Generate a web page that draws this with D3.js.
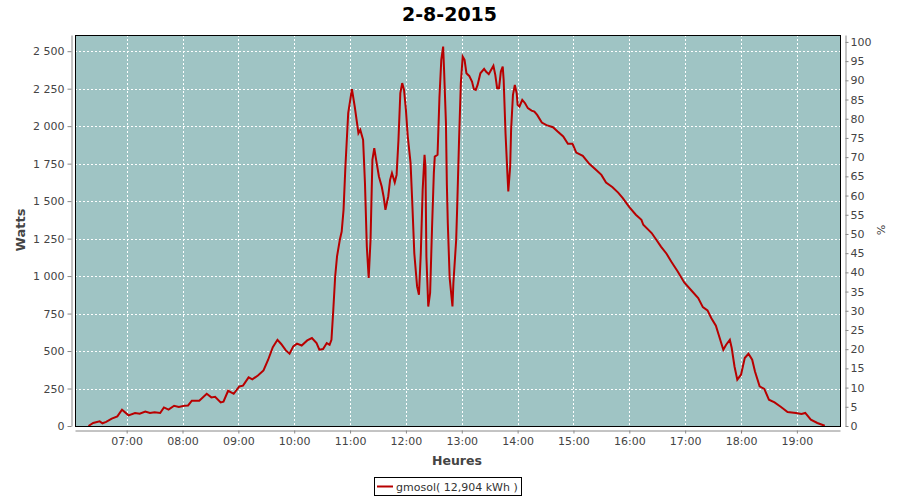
<!DOCTYPE html>
<html>
<head>
<meta charset="utf-8">
<script src="https://cdn.jsdelivr.net/npm/d3@7"></script>
<style>
  body { margin: 0; background: #fff; }
  svg { display: block; font-family: "DejaVu Sans", sans-serif; }
</style>
</head>
<body>
<svg id="chart" width="900" height="500"></svg>
<script>
const title = "2-8-2015";
const seriesName = "gmosol( 12,904 kWh )";
const xDomain = ["06:04:30", "19:46:20"];
const xTickLabels = ["07:00","08:00","09:00","10:00","11:00","12:00","13:00","14:00","15:00","16:00","17:00","18:00","19:00"];
const yTicks = [0,250,500,750,1000,1250,1500,1750,2000,2250,2500];
const yMax = 2608;
const pctTicks = [0,5,10,15,20,25,30,35,40,45,50,55,60,65,70,75,80,85,90,95,100];
const pctMax = 101.8;

const times = ["06:19","06:24","06:31","06:34","06:38","06:44","06:50","06:55","07:02","07:09","07:14","07:20","07:25","07:30","07:36","07:40","07:45","07:51","07:56","08:02","08:06","08:10","08:18","08:26","08:31","08:35","08:41","08:44","08:49","08:55","09:01","09:05","09:11","09:15","09:21","09:27","09:32","09:37","09:42","09:46","09:51","09:55","09:59","10:03","10:08","10:14","10:19","10:24","10:27","10:31","10:35","10:38","10:40","10:42","10:44","10:46","10:49","10:51","10:53","10:55","10:58","11:02","11:05","11:09","11:11","11:14","11:16","11:18","11:20","11:22","11:24","11:26","11:28","11:31","11:34","11:36","11:38","11:41","11:43","11:45","11:48","11:50","11:52","11:54","11:56","11:58","12:00","12:02","12:05","12:07","12:09","12:12","12:14","12:16","12:18","12:20","12:21","12:22","12:24","12:26","12:28","12:30","12:31","12:34","12:36","12:38","12:40","12:41","12:43","12:44","12:45","12:47","12:50","12:51","12:54","12:55","12:57","12:59","13:01","13:03","13:05","13:08","13:11","13:13","13:15","13:17","13:20","13:24","13:26","13:29","13:31","13:34","13:36","13:38","13:40","13:42","13:44","13:45","13:47","13:49","13:50","13:52","13:53","13:55","13:57","13:59","14:00","14:02","14:05","14:08","14:11","14:15","14:18","14:21","14:26","14:31","14:38","14:43","14:49","14:54","14:59","15:03","15:10","15:17","15:25","15:30","15:35","15:42","15:48","15:53","16:00","16:07","16:13","16:15","16:24","16:29","16:34","16:40","16:45","16:52","16:59","17:06","17:14","17:19","17:24","17:28","17:33","17:36","17:41","17:44","17:48","17:50","17:53","17:56","18:00","18:04","18:08","18:12","18:15","18:20","18:25","18:30","18:36","18:43","18:50","18:59","19:05","19:09","19:15","19:22","19:30"];
const watts = [0,20,31,18,27,49,64,109,71,87,82,97,87,91,87,124,109,135,127,135,137,169,169,215,191,195,157,162,235,215,264,269,324,311,337,371,442,526,575,547,504,482,531,549,537,571,587,553,509,513,553,542,575,775,997,1131,1242,1297,1442,1731,2087,2247,2131,1953,1975,1909,1620,1197,987,1242,1775,1853,1775,1664,1597,1531,1442,1531,1642,1687,1624,1675,1909,2220,2287,2242,2109,1931,1753,1464,1153,931,875,1153,1575,1809,1731,1131,797,887,1309,1687,1797,1809,2187,2442,2531,2375,2020,1609,1353,987,797,953,1242,1442,1887,2287,2464,2442,2353,2335,2297,2247,2242,2275,2353,2382,2364,2347,2369,2402,2342,2253,2253,2364,2397,2309,1953,1687,1564,1731,1975,2209,2275,2220,2142,2131,2175,2153,2120,2104,2097,2075,2024,2007,1993,1964,1931,1882,1882,1824,1802,1749,1704,1675,1624,1593,1557,1520,1460,1409,1375,1342,1287,1242,1197,1149,1097,1031,957,909,853,793,771,720,669,609,509,542,575,520,397,309,342,453,482,442,364,264,247,175,157,127,93,87,80,87,42,20,2];

const parseT = s => {
  const p = s.split(":").map(Number);
  return new Date(2015, 7, 2, p[0], p[1], p[2] || 0);
};
const data = times.map((t, i) => ({ t: parseT(t), v: watts[i] }));

const svg = d3.select("#chart");
const L = 75, R = 840, T = 35, B = 426;

const x = d3.scaleTime().domain(xDomain.map(parseT)).range([L, R]);
const y = d3.scaleLinear().domain([0, yMax]).range([B, T]);
const yp = d3.scaleLinear().domain([0, pctMax]).range([B, T]);

// plot background
svg.append("rect").attr("x", L).attr("y", T).attr("width", R - L).attr("height", B - T)
  .attr("fill", "#9fc4c4");

// grid
const grid = svg.append("g").attr("stroke", "#ffffff").attr("stroke-width", 1)
  .attr("stroke-dasharray", "2,2");
const hourTicks = xTickLabels.map(parseT);
grid.selectAll("line.v").data(hourTicks).enter().append("line")
  .attr("x1", d => Math.round(x(d)) + 0.5).attr("x2", d => Math.round(x(d)) + 0.5)
  .attr("y1", T).attr("y2", B);
grid.selectAll("line.h").data(yTicks.filter(d => d > 0)).enter().append("line")
  .attr("y1", d => Math.round(y(d)) + 0.5).attr("y2", d => Math.round(y(d)) + 0.5)
  .attr("x1", L).attr("x2", R);

// line
const line = d3.line().x(d => x(d.t)).y(d => y(d.v));
svg.append("path").datum(data).attr("d", line)
  .attr("fill", "none").attr("stroke", "#b80000").attr("stroke-width", 2)
  .attr("stroke-linejoin", "miter");

// plot border
svg.append("rect").attr("x", L + 0.5).attr("y", T + 0.5).attr("width", R - L).attr("height", B - T)
  .attr("fill", "none").attr("stroke", "#000").attr("stroke-width", 1);

function styleAxis(g) {
  g.selectAll(".domain").attr("stroke", "#888");
  g.selectAll(".tick line").attr("stroke", "#888");
  g.selectAll(".tick text").attr("fill", "#444").style("font-size", "11px")
    .style("font-family", "DejaVu Sans, sans-serif");
}

// left axis
const fmt = d => d3.format(",")(d).replace(/,/g, "\u00a0");
const gl = svg.append("g").attr("transform", "translate(71.5,0)")
  .call(d3.axisLeft(y).tickValues(yTicks).tickFormat(fmt).tickSize(4).tickSizeOuter(0).tickPadding(3));
styleAxis(gl);

// right axis
const gr = svg.append("g").attr("transform", "translate(845.5,0)")
  .call(d3.axisRight(yp).tickValues(pctTicks).tickSize(3).tickSizeOuter(0).tickPadding(2));
styleAxis(gr);

// bottom axis
const gb = svg.append("g").attr("transform", "translate(0,430.5)")
  .call(d3.axisBottom(x).tickValues(hourTicks).tickFormat(d3.timeFormat("%H:%M"))
    .tickSize(3).tickSizeOuter(0).tickPadding(4));
styleAxis(gb);

// title
svg.append("text").attr("x", 449.5).attr("y", 21).attr("text-anchor", "middle")
  .style("font-size", "19px").style("font-weight", "bold").attr("fill", "#000").text(title);

// axis labels
svg.append("text").attr("transform", "translate(25,230) rotate(-90)").attr("text-anchor", "middle")
  .style("font-size", "13px").style("font-weight", "bold").attr("fill", "#444").text("Watts");
svg.append("text").attr("x", 457).attr("y", 465).attr("text-anchor", "middle")
  .style("font-size", "12.5px").style("font-weight", "bold").attr("fill", "#444").text("Heures");
svg.append("text").attr("transform", "translate(877,230) rotate(90)").attr("text-anchor", "middle")
  .style("font-size", "11px").attr("fill", "#444").text("%");

// legend
const lg = svg.append("g");
lg.append("rect").attr("x", 374.5).attr("y", 477.5).attr("width", 147).attr("height", 18)
  .attr("fill", "#fff").attr("stroke", "#000");
lg.append("line").attr("x1", 377).attr("x2", 393).attr("y1", 486.5).attr("y2", 486.5)
  .attr("stroke", "#b80000").attr("stroke-width", 2);
lg.append("text").attr("x", 396).attr("y", 490.5).style("font-size", "11px").attr("fill", "#333")
  .text(seriesName);
</script>
</body>
</html>
